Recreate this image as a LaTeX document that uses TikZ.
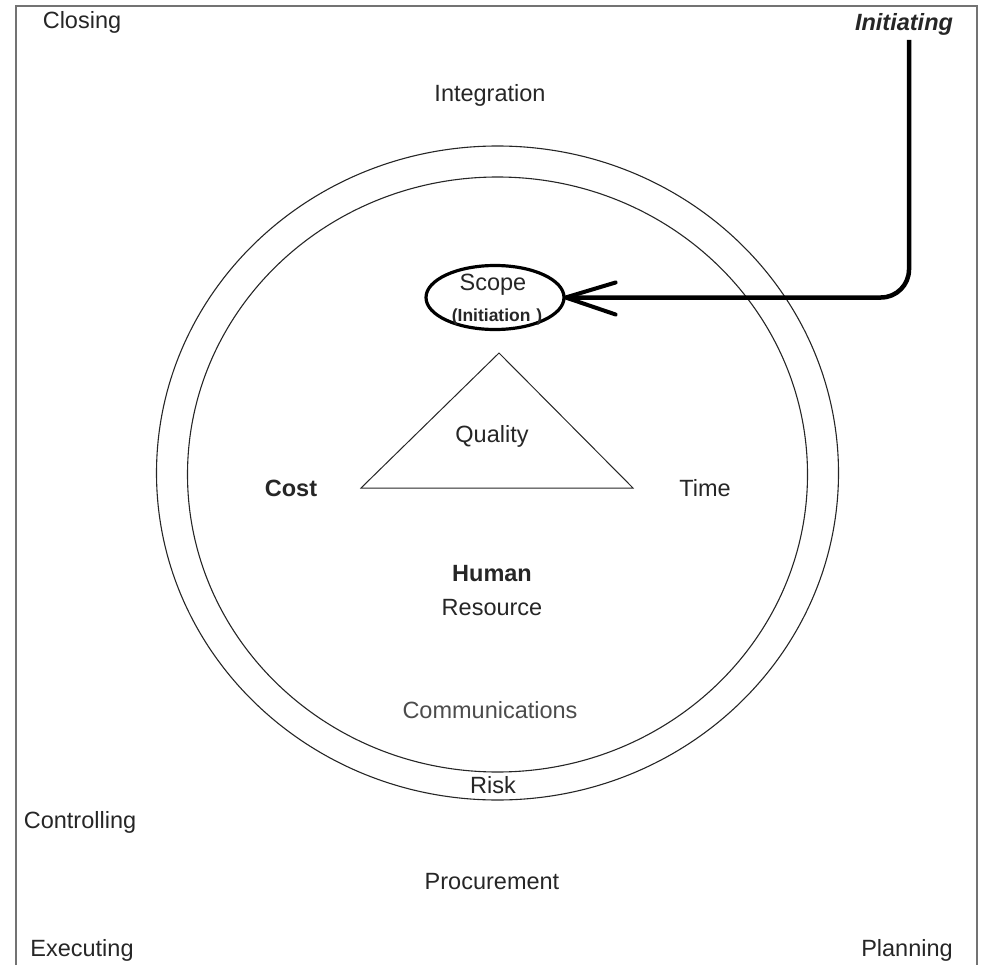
\documentclass[tikz,border=0pt]{standalone}
\usepackage{fontspec}
\setmainfont{Liberation Sans}
\usetikzlibrary{shapes.geometric,calc}
\begin{document}
\begin{tikzpicture}[x=1pt,y=-1pt,
  lbl/.style={font=\fontsize{23.5}{26}\selectfont, text=black!85, inner sep=0pt},
  blbl/.style={lbl, font=\fontsize{23.5}{26}\selectfont\bfseries},
  ring/.style={draw=black!85, line width=1.1pt},
  frameline/.style={draw=black!55, line width=1.5pt},
  thickline/.style={draw=black, line width=4.5pt},
  scopering/.style={ellipse, draw=black, line width=3.2pt, minimum width=138pt, minimum height=64pt, inner sep=0pt}]
\useasboundingbox (0,0) rectangle (981,965);

% outer frame, open at the bottom
\draw[frameline] (16,965) -- (16,6) -- (977,6) -- (977,965);

% the two knowledge-area rings
\draw[ring] (497.5,473) ellipse[x radius=341, y radius=327];
\draw[ring] (497.5,474.5) ellipse[x radius=310, y radius=297.5];

% quality triangle
\coordinate (apex) at (499,353);
\coordinate (baseL) at (361,488);
\coordinate (baseR) at (633,488);
\draw[draw=black!85, line width=1pt] (apex) -- (baseL) -- (baseR) -- cycle;

% process group labels in the corners
\node[lbl] (closing) at (82,22) {Closing};
\node[lbl, font=\fontsize{23.5}{26}\selectfont\bfseries\itshape] (initiating) at (904,24) {Initiating};
\node[lbl] (controlling) at (80,822) {Controlling};
\node[lbl] (executing) at (82,950) {Executing};
\node[lbl] (planning) at (907,950) {Planning};

% knowledge areas
\node[lbl] (integration) at (490,95) {Integration};
\node[scopering] (scope) at (495,297.5) {};
\node[lbl] (scopetxt) at (493,285) {Scope};
\node[lbl, font=\fontsize{17.5}{20}\selectfont\bfseries] (initiation) at (497,317) {(Initiation\,\,)};
\node[lbl] (quality) at (492,436) {Quality};
\node[blbl] (cost) at (291,488) {Cost};
\node[lbl] (time) at (705,488) {Time};
\node[blbl] (human) at (492,574) {Human};
\node[lbl] (resource) at (492,608) {Resource};
\node[lbl, text=black!70] (comms) at (490,710) {Communications};
\node[lbl] (risk) at (493,785) {Risk};
\node[lbl] (procurement) at (492,882) {Procurement};

% connector from the Initiating group into Scope
\coordinate (initdrop) at (909,40);
\draw[thickline, rounded corners=28pt] (initdrop) |- (scope.east);
\draw[thickline, line width=4pt, line cap=round, line join=round]
  ($(scope.east)+(50,-15)$) -- (scope.east) -- ($(scope.east)+(50,17)$);
\end{tikzpicture}
\end{document}
